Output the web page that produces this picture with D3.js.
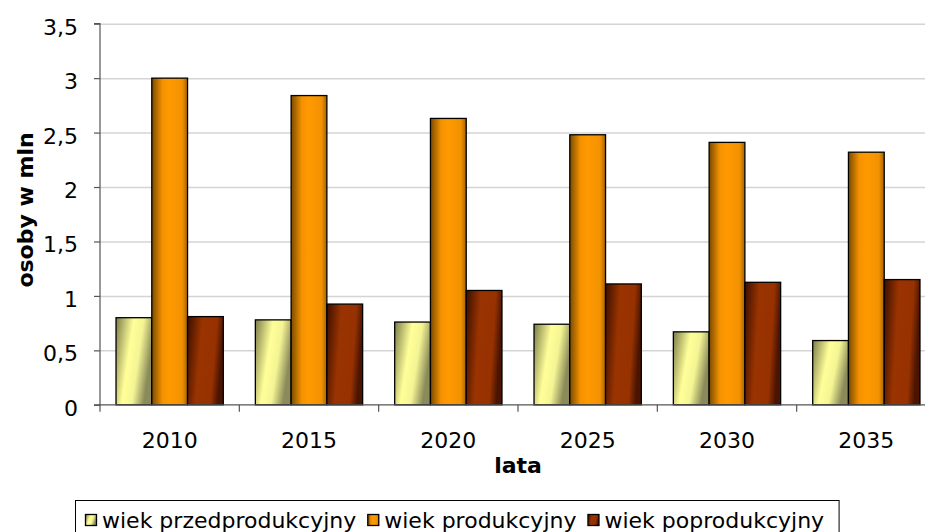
<!DOCTYPE html>
<html><head><meta charset="utf-8">
<script src="https://cdn.jsdelivr.net/npm/d3@7"></script>
<style>
html,body{margin:0;padding:0;background:#fff;}
svg{display:block;}
text{font-family:"DejaVu Sans",sans-serif;fill:#000;}
</style></head>
<body>
<svg id="chart" width="925" height="532"></svg>
<script>
const categories = ["2010","2015","2020","2025","2030","2035"];
const seriesNames = ["wiek przedprodukcyjny","wiek produkcyjny","wiek poprodukcyjny"];
const przedprodukcyjny = [0.80,0.78,0.76,0.74,0.67,0.59];
const produkcyjny = [3.00,2.84,2.63,2.48,2.41,2.32];
const poprodukcyjny = [0.81,0.925,1.05,1.11,1.125,1.15];
const yTicks = [0,0.5,1,1.5,2,2.5,3,3.5];
const yTitle = "osoby w mln";
const xTitle = "lata";

(function(){
const seriesValues = [przedprodukcyjny, produkcyjny, poprodukcyjny];
const svg = d3.select("#chart");
const pLeft = 100, pRight = 936, pTop = 23.7, pBottom = 404.8;
const fs = "22px";

const x = d3.scaleBand().domain(categories).range([pLeft, pRight]).paddingInner(0.23).paddingOuter(0.115);
const xb = d3.scaleBand().domain(categories).range([pLeft, pRight]).padding(0);
const xs = d3.scaleBand().domain(d3.range(3)).range([0, x.bandwidth()]).padding(0);
const y = d3.scaleLinear().domain([0,3.5]).range([pBottom, pTop]);

const defs = svg.append("defs");
const g0 = defs.append("linearGradient").attr("id","g0").attr("x1","0").attr("y1","0").attr("x2","1").attr("y2","0.35");
[[0,"#7c7c4a"],[0.45,"#ffff99"],[0.7,"#f4f494"],[1,"#8a8a5a"]].forEach(s=>g0.append("stop").attr("offset",s[0]).attr("stop-color",s[1]));
const g1 = defs.append("linearGradient").attr("id","g1").attr("x1","0").attr("y1","0").attr("x2","1").attr("y2","0");
[[0,"#7a4a00"],[0.3,"#f49300"],[0.5,"#ff9900"],[0.85,"#f29200"],[1,"#a66300"]].forEach(s=>g1.append("stop").attr("offset",s[0]).attr("stop-color",s[1]));
const g2 = defs.append("linearGradient").attr("id","g2").attr("x1","0").attr("y1","0").attr("x2","1").attr("y2","0.2");
[[0,"#3a0f00"],[0.4,"#993300"],[0.8,"#973200"],[1,"#4a1400"]].forEach(s=>g2.append("stop").attr("offset",s[0]).attr("stop-color",s[1]));
const fills = ["url(#g0)","url(#g1)","url(#g2)"];

svg.append("g").selectAll("line").data(yTicks.filter(d=>d>0)).join("line")
  .attr("x1",pLeft).attr("x2",925).attr("y1",d=>y(d)+0.5).attr("y2",d=>y(d)+0.5)
  .attr("stroke","#d4d4d4").attr("stroke-width",1.5);

const groups = svg.append("g").selectAll("g").data(categories).join("g")
  .attr("transform",d=>`translate(${x(d)},0)`);
groups.selectAll("rect").data((d,i)=>seriesValues.map((s,k)=>({k,v:s[i]}))).join("rect")
  .attr("x",d=>xs(d.k)).attr("width",xs.bandwidth())
  .attr("y",d=>y(d.v)).attr("height",d=>pBottom-y(d.v))
  .attr("fill",d=>fills[d.k]).attr("stroke","#000").attr("stroke-width",1.3);

const yAxis = d3.axisLeft(y).tickValues(yTicks).tickSize(6).tickPadding(16)
  .tickFormat(d=>String(d).replace(".",","));
const ya = svg.append("g").attr("transform",`translate(${pLeft},0)`).call(yAxis);
ya.selectAll("path,line").attr("stroke","#555").attr("stroke-width",1.2);
ya.select(".domain").attr("d",`M-6,${pTop}H0V${pBottom}H-6`);
ya.selectAll("text").style("font-size",fs).attr("fill","#222").attr("dy","10.5px");

const xa = svg.append("g").attr("transform",`translate(0,${pBottom})`);
xa.append("line").attr("x1",pLeft).attr("x2",925).attr("y1",0).attr("y2",0).attr("stroke","#555").attr("stroke-width",1.2);
xa.selectAll("line.t").data(categories).join("line").attr("class","t")
  .attr("x1",d=>xb(d)).attr("x2",d=>xb(d)).attr("y1",0).attr("y2",7).attr("stroke","#555").attr("stroke-width",1.2);
xa.selectAll("text").data(categories).join("text")
  .attr("x",d=>x(d)+x.bandwidth()/2).attr("y",43).attr("text-anchor","middle")
  .style("font-size",fs).attr("fill","#222").text(d=>d);

svg.append("text").attr("x",518).attr("y",473).attr("text-anchor","middle")
  .style("font-size",fs).style("font-weight","bold").text(xTitle);
svg.append("text").attr("transform","translate(33,210) rotate(-90)").attr("text-anchor","middle")
  .style("font-size",fs).style("font-weight","bold").text(yTitle);

const lg = svg.append("g");
const box = lg.append("rect").attr("x",75.5).attr("y",500.5).attr("height",40).attr("fill","#fff").attr("stroke","#000").attr("stroke-width",1);
let cx = 85;
seriesNames.forEach((n,k)=>{
  lg.append("rect").attr("x",cx+0.5).attr("y",514.5).attr("width",11).attr("height",11)
    .attr("fill",fills[k]).attr("stroke","#000").attr("stroke-width",1.3);
  const t = lg.append("text").attr("x",cx+17).attr("y",527.5).style("font-size",fs).text(n);
  cx = cx + 17 + t.node().getComputedTextLength() + 11;
});
box.attr("width",cx-75.5+4);
})();
</script>
</body></html>
